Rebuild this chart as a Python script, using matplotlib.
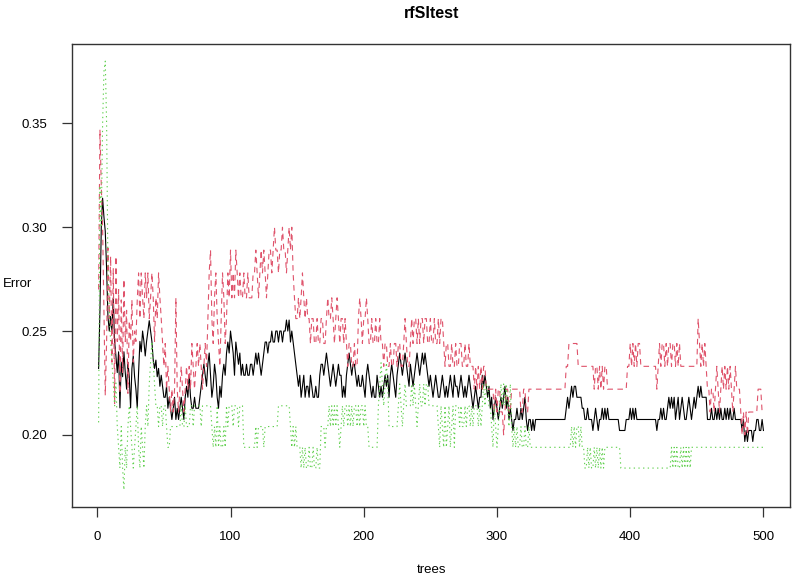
import matplotlib
matplotlib.use("Agg")
import matplotlib.pyplot as plt
import numpy as np

plt.rcParams['font.family'] = ['Liberation Sans', 'DejaVu Sans']

title = "rfSItest"
xlabel = "trees"
ylabel = "Error"
n_trees = 500
xticks = [0, 100, 200, 300, 400, 500]
yticks = [0.20, 0.25, 0.30, 0.35]
ytick_labels = ["0.20", "0.25", "0.30", "0.35"]

# Change points (tree index where a new value starts, value held until next change)
oob_start = [1,2,3,4,5,6,7,8,9,10,11,12,13,14,15,16,17,18,19,20,21,22,23,24,25,26,27,28,29,30,
             31,32,33,34,35,36,37,38,39,40,41,42,43,44,45,46,47,48,49,50,52,53,54,55,56,57,58,59,60,
             61,62,63,64,65,66,67,68,69,70,71,73,74,77,78,79,80,81,82,83,84,85,86,87,88,89,90,
             91,92,93,94,95,96,97,98,99,100,101,102,103,104,105,106,107,108,109,110,112,113,115,117,118,119,120,
             121,122,123,124,125,126,128,129,131,132,134,136,137,139,140,142,143,144,145,146,147,148,149,150,
             151,152,153,154,155,156,157,159,160,161,162,164,165,167,168,170,171,172,173,174,175,176,177,178,179,180,
             181,182,184,185,186,187,188,189,190,191,192,194,195,196,197,199,200,
             201,202,203,204,205,206,207,208,210,211,212,213,214,215,216,217,218,219,220,
             221,222,223,224,225,226,227,228,229,230,231,232,233,234,235,236,237,238,239,240,
             241,242,243,244,245,246,247,248,249,250,251,252,253,254,255,256,258,259,260,
             261,262,263,264,265,266,267,268,269,271,272,273,274,275,276,277,278,279,280,
             281,282,283,284,285,286,287,289,290,291,292,293,294,295,296,297,298,299,300,
             301,302,303,304,305,306,307,308,309,310,311,312,313,315,316,318,319,320,
             321,322,323,324,326,327,328,329,352,353,354,355,356,357,358,360,364,366,368,369,372,373,374,375,376,377,379,380,
             381,382,383,384,392,397,400,401,402,403,404,405,420,421,423,424,425,426,428,429,430,
             431,432,433,434,435,436,437,438,439,440,441,443,444,445,446,447,448,449,450,
             451,452,453,454,458,461,462,464,465,466,467,468,469,471,472,473,474,475,476,478,479,
             484,485,486,487,488,489,492,493,495,497,499,500]
oob_val = [0.232,0.26,0.30,0.314,0.305,0.298,0.28,0.257,0.25,0.257,0.25,0.266,0.245,0.238,0.23,0.24,0.213,0.235,0.228,0.24,
           0.23,0.222,0.235,0.228,0.213,0.232,0.238,0.228,0.222,0.213,
           0.23,0.245,0.24,0.25,0.245,0.238,0.245,0.25,0.255,0.25,0.245,0.236,0.232,0.236,0.228,0.232,0.2234,0.2287,0.2234,0.2181,
           0.2234,0.2128,0.2181,0.2128,0.2074,0.2128,0.2181,0.2074,0.2128,
           0.2074,0.2128,0.2181,0.2128,0.2074,0.2181,0.2234,0.2181,0.2287,0.2181,0.2128,0.2181,0.2128,0.2181,0.2234,0.2287,0.2340,0.2287,0.2234,0.2340,0.2394,0.2287,0.2181,0.2234,0.2340,0.2287,0.2181,
           0.2128,0.2234,0.2181,0.2287,0.2340,0.2287,0.2394,0.2447,0.2394,0.2500,0.2447,0.2394,0.2287,0.2447,0.2394,0.2340,0.2394,0.2287,0.2340,0.2287,0.2340,0.2287,0.2340,0.2287,0.2340,0.2394,0.2340,
           0.2394,0.2340,0.2287,0.2340,0.2394,0.2447,0.2394,0.2447,0.2500,0.2447,0.2500,0.2447,0.2500,0.2447,0.2500,0.2553,0.2500,0.2553,0.2447,0.2500,0.2447,0.2394,0.2340,0.2287,
           0.2234,0.2287,0.2181,0.2234,0.2287,0.2181,0.2234,0.2181,0.2287,0.2234,0.2181,0.2234,0.2181,0.2287,0.2340,0.2287,0.2340,0.2394,0.2340,0.2287,0.2234,0.2287,0.2340,0.2287,0.2234,0.2287,
           0.2340,0.2287,0.2181,0.2234,0.2181,0.2287,0.2340,0.2394,0.2340,0.2287,0.2340,0.2287,0.2234,0.2287,0.2234,0.2287,0.2234,
           0.2181,0.2287,0.2340,0.2287,0.2234,0.2181,0.2234,0.2181,0.2287,0.2234,0.2181,0.2234,0.2181,0.2234,0.2287,0.2234,0.2287,0.2181,0.2287,
           0.2340,0.2287,0.2234,0.2181,0.2287,0.2340,0.2394,0.2340,0.2287,0.2340,0.2394,0.2340,0.2287,0.2234,0.2340,0.2287,0.2234,0.2287,0.2340,0.2394,
           0.2340,0.2287,0.2340,0.2394,0.2340,0.2394,0.2340,0.2287,0.2234,0.2287,0.2234,0.2181,0.2234,0.2287,0.2234,0.2181,0.2234,0.2287,0.2234,
           0.2181,0.2234,0.2181,0.2234,0.2287,0.2234,0.2181,0.2287,0.2234,0.2181,0.2234,0.2287,0.2234,0.2181,0.2234,0.2181,0.2234,0.2287,0.2234,
           0.2181,0.2128,0.2181,0.2234,0.2181,0.2128,0.2181,0.2287,0.2234,0.2287,0.2234,0.2181,0.2234,0.2128,0.2181,0.2074,0.2128,0.2181,0.2128,
           0.2074,0.2128,0.2181,0.2128,0.2181,0.2234,0.2128,0.2181,0.2074,0.2128,0.2074,0.2021,0.2074,0.2128,0.2074,0.2128,0.2074,0.2128,
           0.2181,0.2074,0.2021,0.2074,0.2021,0.2074,0.2021,0.2074,0.2128,0.2181,0.2128,0.2181,0.2234,0.2181,0.2234,0.2181,0.2128,0.2074,0.2128,0.2074,0.2021,0.2074,0.2128,0.2074,0.2021,0.2074,0.2128,0.2074,
           0.2128,0.2074,0.2128,0.2074,0.2021,0.2074,0.2128,0.2074,0.2128,0.2074,0.2128,0.2074,0.2021,0.2074,0.2128,0.2074,0.2128,0.2074,0.2128,0.2181,0.2128,
           0.2181,0.2128,0.2181,0.2074,0.2128,0.2181,0.2074,0.2128,0.2181,0.2128,0.2074,0.2128,0.2181,0.2128,0.2074,0.2128,0.2181,0.2128,0.2181,
           0.2234,0.2181,0.2234,0.2181,0.2074,0.2128,0.2074,0.2128,0.2074,0.2128,0.2074,0.2128,0.2074,0.2128,0.2074,0.2128,0.2074,0.2128,0.2074,0.2128,0.2074,
           0.2021,0.2074,0.1968,0.2021,0.1968,0.2021,0.1968,0.2021,0.2074,0.2021,0.2074,0.2021]

cls1_start = [1,2,3,4,5,6,7,8,9,10,11,12,13,14,15,16,17,18,19,20,21,22,23,24,25,26,27,28,29,30,
              31,32,33,34,35,36,37,38,39,40,41,42,43,44,45,46,47,48,49,50,51,52,53,54,55,56,57,58,59,60,
              61,62,63,64,65,66,67,68,69,70,71,72,73,74,75,76,77,78,79,80,81,82,83,84,85,86,87,88,89,90,
              91,92,93,94,95,96,97,98,99,100,101,102,103,104,105,106,107,108,110,111,113,114,117,119,120,
              121,122,123,124,125,126,127,128,129,131,132,133,134,136,137,139,140,142,143,144,145,146,147,148,149,
              151,152,153,154,155,156,157,158,160,161,163,165,166,168,170,172,173,174,176,177,178,179,180,
              181,182,183,185,186,187,188,189,191,193,194,196,197,198,199,200,202,203,204,206,207,209,210,
              212,213,215,216,218,220,221,223,225,226,228,230,231,232,233,235,236,237,238,240,
              241,242,243,245,246,248,250,251,253,254,256,257,258,260,261,262,264,266,267,269,270,
              272,274,276,277,279,280,283,284,285,286,287,288,289,290,292,298,299,300,301,303,305,306,307,309,
              311,318,320,322,324,352,354,361,373,374,376,377,378,379,380,381,383,398,400,401,402,403,404,405,406,408,
              420,421,422,423,424,426,427,428,429,431,432,434,435,436,437,438,451,452,453,454,455,456,457,458,460,
              461,463,464,465,466,467,468,469,470,471,472,473,474,475,476,477,478,479,480,483,484,485,486,487,488,489,496,499]
cls1_val = [0.27,0.347,0.32,0.30,0.26,0.219,0.245,0.29,0.256,0.286,0.235,0.28,0.215,0.286,0.245,0.27,0.22,0.265,0.23,0.275,
            0.245,0.26,0.22,0.255,0.245,0.265,0.235,0.25,0.245,0.265,
            0.278,0.256,0.278,0.266,0.256,0.278,0.266,0.278,0.256,0.266,0.278,0.266,0.245,0.266,0.256,0.278,0.266,0.256,0.244,0.233,
            0.244,0.222,0.233,0.222,0.211,0.222,0.211,0.222,0.266,0.222,
            0.211,0.222,0.233,0.222,0.211,0.222,0.233,0.222,0.233,0.222,0.244,0.233,0.222,0.233,0.244,0.233,0.244,0.233,0.222,0.233,
            0.244,0.233,0.256,0.278,0.289,0.256,0.244,0.266,0.278,0.256,
            0.244,0.233,0.256,0.278,0.266,0.244,0.256,0.278,0.266,0.289,0.266,0.278,0.266,0.289,0.278,0.266,0.278,0.266,0.278,0.266,
            0.278,0.266,0.278,0.289,0.278,
            0.266,0.278,0.289,0.278,0.289,0.278,0.266,0.278,0.289,0.278,0.289,0.30,0.289,0.278,0.289,0.30,0.289,0.278,0.289,0.30,
            0.289,0.30,0.278,0.266,0.256,
            0.266,0.256,0.266,0.278,0.266,0.256,0.266,0.256,0.244,0.256,0.244,0.256,0.244,0.256,0.244,0.256,0.266,0.256,0.266,0.256,
            0.244,0.256,0.266,
            0.256,0.244,0.256,0.244,0.256,0.244,0.233,0.244,0.233,0.244,0.233,0.256,0.266,0.256,0.244,0.256,0.266,0.256,0.244,0.256,
            0.244,0.256,0.244,
            0.256,0.244,0.233,0.244,0.233,0.244,0.233,0.244,0.233,0.244,0.233,0.244,0.256,0.244,0.233,0.244,0.256,0.244,0.256,0.244,
            0.256,0.244,0.256,0.244,0.256,0.244,0.256,0.244,0.256,0.244,0.256,0.244,0.256,0.244,0.233,0.244,0.233,0.244,0.233,0.244,
            0.233,0.244,0.233,0.244,0.233,0.244,0.233,0.222,0.233,0.222,0.233,0.222,0.233,0.222,0.233,0.222,0.211,0.222,0.211,0.222,
            0.211,0.200,0.211,0.222,0.211,
            0.222,0.211,0.222,0.211,0.222,0.233,0.244,0.233,0.222,0.233,0.222,0.233,0.222,0.233,0.222,0.233,0.222,0.233,0.244,0.233,
            0.244,0.233,0.244,0.233,0.244,0.233,
            0.222,0.233,0.244,0.233,0.244,0.233,0.244,0.233,0.244,0.233,0.244,0.233,0.244,0.233,0.244,0.233,0.256,0.244,0.233,0.244,
            0.233,0.244,0.233,0.222,0.211,
            0.222,0.211,0.222,0.233,0.222,0.211,0.222,0.233,0.222,0.233,0.222,0.233,0.222,0.233,0.222,0.211,0.222,0.233,0.222,0.211,
            0.200,0.211,0.200,0.211,0.200,0.211,0.222,0.211]

cls2_start = [1,2,3,4,5,6,7,8,9,10,11,12,13,14,15,16,17,18,19,20,21,22,23,24,25,26,27,28,29,30,
              31,32,33,34,35,36,37,38,39,40,41,42,43,44,46,47,49,50,52,53,55,63,64,66,67,70,72,73,78,79,
              86,87,88,89,90,91,92,93,95,96,97,98,99,102,103,106,107,110,119,120,121,125,126,136,
              145,146,147,148,149,150,153,154,155,156,157,159,160,162,163,165,166,168,171,172,174,175,176,177,178,179,180,
              181,182,183,184,185,186,188,189,190,191,192,193,195,196,197,198,200,201,202,204,211,212,213,214,215,216,217,218,219,
              226,227,228,229,230,231,232,236,237,238,239,240,241,242,243,245,246,247,249,256,257,258,259,260,
              261,262,263,264,265,266,267,268,269,272,273,274,276,277,278,280,281,282,283,286,287,288,289,290,
              291,292,294,296,297,298,299,300,301,302,303,304,305,306,307,308,309,310,311,312,313,314,315,316,318,319,321,322,324,325,
              356,357,358,359,360,362,363,364,366,368,369,370,371,373,374,375,376,377,378,379,380,381,393,
              431,432,433,434,435,436,438,439,440,441,442,443,444,445,446]
cls2_val = [0.206,0.32,0.30,0.35,0.375,0.38,0.35,0.28,0.26,0.245,0.235,0.225,0.214,0.225,0.204,0.194,0.184,0.204,0.184,0.1735,
            0.194,0.184,0.204,0.214,0.204,0.194,0.184,0.194,0.204,0.214,
            0.194,0.184,0.204,0.194,0.184,0.204,0.214,0.204,0.2245,0.2347,0.2449,0.2347,0.2245,0.214,0.204,0.214,0.204,0.214,0.204,0.194,
            0.204,0.214,0.204,0.214,0.204,0.214,0.204,0.214,0.204,0.214,
            0.204,0.194,0.204,0.194,0.214,0.194,0.204,0.194,0.204,0.194,0.214,0.204,0.214,0.204,0.214,0.204,0.214,0.194,0.204,0.194,
            0.204,0.194,0.204,0.214,
            0.204,0.194,0.204,0.194,0.204,0.194,0.184,0.194,0.184,0.194,0.184,0.194,0.184,0.194,0.184,0.194,0.184,0.204,0.194,0.204,
            0.214,0.204,0.214,0.204,0.214,0.204,0.214,
            0.204,0.194,0.204,0.214,0.204,0.214,0.204,0.214,0.204,0.214,0.204,0.214,0.204,0.214,0.204,0.214,0.204,0.214,0.204,0.194,
            0.214,0.2245,0.2347,0.2245,0.214,0.2245,0.2347,0.2245,0.204,
            0.214,0.2245,0.214,0.204,0.214,0.2245,0.214,0.2245,0.214,0.2245,0.214,0.204,0.214,0.2245,0.214,0.2245,0.214,0.2245,0.214,
            0.204,0.194,0.214,0.204,0.194,
            0.214,0.194,0.204,0.214,0.194,0.204,0.214,0.194,0.214,0.204,0.214,0.204,0.214,0.204,0.214,0.204,0.214,0.204,0.214,0.204,
            0.214,0.204,0.214,0.2245,
            0.214,0.2245,0.214,0.204,0.194,0.214,0.204,0.194,0.204,0.214,0.2245,0.214,0.2245,0.214,0.2245,0.214,0.204,0.2245,0.204,
            0.194,0.204,0.194,0.204,0.194,0.204,0.194,0.204,0.194,0.204,0.194,
            0.204,0.194,0.204,0.194,0.204,0.194,0.204,0.194,0.184,0.194,0.184,0.194,0.184,0.194,0.184,0.194,0.184,0.194,0.184,0.194,
            0.184,0.194,0.184,
            0.194,0.184,0.194,0.184,0.194,0.184,0.194,0.184,0.194,0.184,0.194,0.184,0.194,0.184,0.194]


def hold(starts, vals, n):
    out = np.empty(n)
    edges = list(starts) + [n + 1]
    for i, v in enumerate(vals):
        out[edges[i] - 1:edges[i + 1] - 1] = v
    return out


trees = np.arange(1, n_trees + 1)
oob = hold(oob_start, oob_val, n_trees)
cls1 = hold(cls1_start, cls1_val, n_trees)
cls2 = hold(cls2_start, cls2_val, n_trees)

fig = plt.figure(figsize=(7.94, 5.78), dpi=100)
ax = fig.add_axes([0.0907, 0.1228, 0.9043, 0.8011])

ax.plot(trees, oob, color="black", lw=0.8)
ax.plot(trees, cls1, color="#DF536B", lw=0.8, linestyle=(0, (5, 4)))
ax.plot(trees, cls2, color="#61D04F", lw=0.8, linestyle=(0, (1.2, 3)))

ax.margins(x=0.04, y=0.04)
ax.set_xticks(xticks)
ax.set_yticks(yticks)
ax.set_yticklabels(ytick_labels)
ax.tick_params(direction="out", length=7.5, width=0.9, labelsize=9.5, colors="#333333", labelcolor="black", pad=10)
for s in ax.spines.values():
    s.set_linewidth(1.0)
    s.set_color("#333333")

fig.text(0.543, 1 - 570 / 578, xlabel, ha="center", va="center", fontsize=9.5)
fig.text(3 / 794, 1 - 284 / 578, ylabel, ha="left", va="center", fontsize=9.5)
fig.text(0.543, 1 - 13 / 578, title, ha="center", va="center", fontsize=11.5, fontweight="bold")

fig.savefig("out.png", dpi=100)
